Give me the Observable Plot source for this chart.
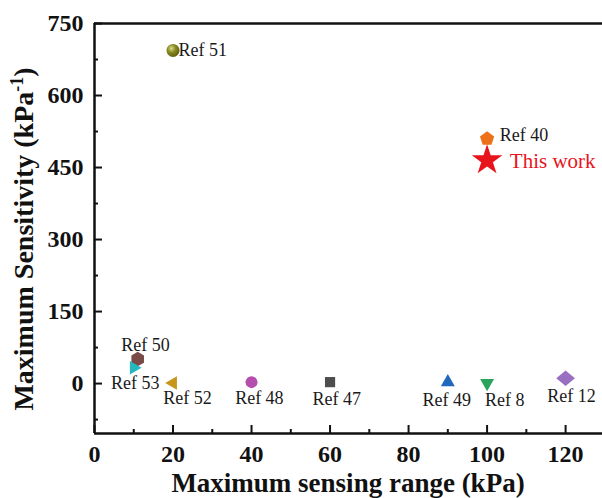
<!DOCTYPE html>
<html>
<head>
<meta charset="utf-8">
<script src="https://cdn.jsdelivr.net/npm/d3@7"></script>
<script src="https://cdn.jsdelivr.net/npm/@observablehq/plot@0.6"></script>
<style>
  html, body { margin: 0; padding: 0; background: #fff; }
  svg { display: block; }
</style>
</head>
<body>
<div id="chart"></div>
<script>
// ---- data ----
const refs        = ["Ref 51", "Ref 40", "Ref 50", "Ref 53", "Ref 52", "Ref 48", "Ref 47", "Ref 49", "Ref 8", "Ref 12"];
const rangeKPa    = [20, 100, 11, 10, 20, 40, 60, 90, 100, 120];
const sensitivity = [694, 510, 51, 33, 1, 3, 3, 3, 1, 11];
// label anchor points (data units)
const labelX      = [21.4, 103.2, 13.0, 10.4, 23.7, 42.0, 61.7, 89.7, 104.5, 121.5];
const labelY      = [694, 518, 79, 0, -31, -31, -32, -34, -34, -27];
const labelAnchor = ["start", "start", "middle", "middle", "middle", "middle", "middle", "middle", "middle", "middle"];

const thisWorkLabel = ["This work"];
const thisWorkX = [100];
const thisWorkY = [465];
const thisWorkLabelX = [105.8];
const thisWorkLabelY = [463];

const xTicks = [0, 20, 40, 60, 80, 100, 120];
const xMinor = [10, 30, 50, 70, 90, 110];
const yTicks = [0, 150, 300, 450, 600, 750];
const yMinor = [-75, 75, 225, 375, 525, 675];
const xDomain = [0, 129.4];
const yDomain = [-104, 750];

// ---- styles ----
const refColors = ["url(#sph)", "#ec7118", "#7a4a48", "#25b8bf", "#c9961c", "#b44fae", "#4d4d4d", "#1f67bf", "#2aa35c", "#9a6fc2"];

function poly(n, R, offDeg, sx = 1, sy = 1) {
  return {
    draw(ctx, size) {
      const r = Math.sqrt(size / Math.PI);
      for (let k = 0; k < n; k++) {
        const a = (offDeg * Math.PI / 180) + 2 * Math.PI * k / n;
        const px = R * r * Math.sin(a) * sx, py = -R * r * Math.cos(a) * sy;
        if (k === 0) ctx.moveTo(px, py); else ctx.lineTo(px, py);
      }
      ctx.closePath();
    }
  };
}
const refSymbols = [
  "circle",           // Ref 51 sphere
  poly(5, 1.15, 0),   // pentagon
  poly(6, 1.12, 0),   // hexagon
  poly(3, 1.3, 90),   // right triangle
  poly(3, 1.3, -90),  // left triangle
  "circle",           // Ref 48
  poly(4, 1.2, 45),   // square
  poly(3, 1.3, 0),    // up triangle
  poly(3, 1.3, 180),  // down triangle
  poly(4, 1.25, 0, 1.15, 0.95) // diamond
];
const refR = [6.5, 6.5, 6.5, 6, 6, 6, 6, 6.2, 6.2, 6.5];

const data = refs.map((label, i) => ({
  label, x: rangeKPa[i], y: sensitivity[i], lx: labelX[i], ly: labelY[i], anchor: labelAnchor[i], r: refR[i]
}));
const tw = thisWorkLabel.map((label, i) => ({label, x: thisWorkX[i], y: thisWorkY[i], lx: thisWorkLabelX[i], ly: thisWorkLabelY[i]}));

const W = 602, H = 498;
const mL = 94, mT = 23, mR = 0, mB = 65;
const fw = W - mL - mR, fh = H - mT - mB;
const font = "'Liberation Serif', 'Times New Roman', Times, serif";

const plot = Plot.plot({
  width: W, height: H,
  marginLeft: mL, marginTop: mT, marginRight: mR, marginBottom: mB,
  style: { fontFamily: font, color: "#111", background: "#fff", overflow: "visible" },
  x: { domain: xDomain, label: null },
  y: { domain: yDomain, label: null },
  r: { type: "identity" },
  color: { domain: refs, range: refColors },
  symbol: { domain: refs, range: refSymbols },
  marks: [
    Plot.axisX(xTicks, { tickSize: 0, tickPadding: 11, fontSize: 24, fontWeight: "bold", label: null }),
    Plot.axisY(yTicks, { tickSize: 0, tickPadding: 11, fontSize: 24, fontWeight: "bold", label: null }),
    // inward ticks
    Plot.tickX(xTicks, { x: d => d, insetTop: fh - 8, stroke: "#111", strokeWidth: 2 }),
    Plot.tickX(xMinor, { x: d => d, insetTop: fh - 4, stroke: "#111", strokeWidth: 2 }),
    Plot.tickY(yTicks, { y: d => d, insetRight: fw - 8, stroke: "#111", strokeWidth: 2 }),
    Plot.tickY(yMinor, { y: d => d, insetRight: fw - 4, stroke: "#111", strokeWidth: 2 }),
    // frame lines
    Plot.ruleY([yDomain[0]], { stroke: "#111", strokeWidth: 2.5 }),
    Plot.ruleY([yDomain[1]], { stroke: "#111", strokeWidth: 2.5 }),
    Plot.ruleX([xDomain[0]], { stroke: "#111", strokeWidth: 2.5 }),
    // reference points
    Plot.dot(data, { x: "x", y: "y", symbol: "label", fill: "label", r: "r", stroke: "none" }),
    Plot.text(data, { filter: d => d.anchor === "start", x: "lx", y: "ly", text: "label", textAnchor: "start", fontSize: 18, fill: "#1a1a1a" }),
    Plot.text(data, { filter: d => d.anchor === "middle", x: "lx", y: "ly", text: "label", textAnchor: "middle", fontSize: 18, fill: "#1a1a1a" }),
    // this work
    Plot.dot(tw, { x: "x", y: "y", symbol: "star", r: 9.6, fill: "#e8141c" }),
    Plot.text(tw, { x: "lx", y: "ly", text: "label", textAnchor: "start", fontSize: 21, fill: "#e8141c" })
  ]
});

const svg = d3.select(plot);
const defs = svg.insert("defs", ":first-child");
const g = defs.append("radialGradient").attr("id", "sph").attr("cx", "0.38").attr("cy", "0.35").attr("r", "0.7");
g.append("stop").attr("offset", "0").attr("stop-color", "#d9d98a");
g.append("stop").attr("offset", "0.45").attr("stop-color", "#8a8a22");
g.append("stop").attr("offset", "1").attr("stop-color", "#5c5c10");

// axis titles
svg.append("text")
  .attr("x", mL + fw / 2).attr("y", 492)
  .attr("text-anchor", "middle")
  .attr("font-family", font).attr("font-size", 27).attr("font-weight", "bold").attr("fill", "#111")
  .text("Maximum sensing range (kPa)");

const yt = svg.append("text")
  .attr("transform", `translate(33,239) rotate(-90)`)
  .attr("text-anchor", "middle")
  .attr("font-family", font).attr("font-size", 28).attr("font-weight", "bold").attr("fill", "#111");
yt.append("tspan").text("Maximum Sensitivity (kPa");
yt.append("tspan").attr("dy", -10).attr("font-size", 18).text("-1");
yt.append("tspan").attr("dy", 10).text(")");

document.getElementById("chart").appendChild(plot);
</script>
</body>
</html>
